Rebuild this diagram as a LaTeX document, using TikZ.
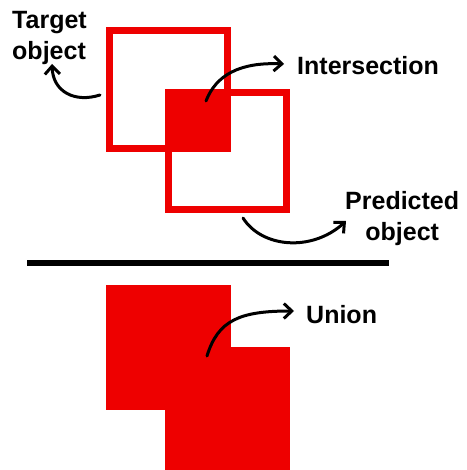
\documentclass[tikz,border=0pt]{standalone}
\usepackage{fontspec}
\setmainfont{Liberation Sans}
\usetikzlibrary{arrows.meta}
\definecolor{boxred}{RGB}{238,0,0}
\begin{document}
\begin{tikzpicture}[x=1pt,y=-1pt,
  lbl/.style={font=\bfseries\fontsize{25}{31}\selectfont, text=black, inner sep=0pt},
  curvy/.style={line width=3pt, black, line cap=round, -{Straight Barb[length=8pt,width=15pt,line width=3pt]}},
  outline/.style={draw=boxred, line width=7pt}]
\useasboundingbox (0,0) rectangle (466,470);
% top part
\fill[boxred] (165,89) rectangle (231,152);
\draw[outline] (109.5,30.5) rectangle (227.5,148.5);
\draw[outline] (168.5,92.5) rectangle (286.5,209.5);
% separator
\draw[line width=6pt, black] (27,263) coordinate (sepL) -- (389,263) coordinate (sepR);
% union
\fill[boxred] (106,285) rectangle (231,410);
\fill[boxred] (165,347) rectangle (290,472);
% labels
\node[lbl, anchor=base west, align=left] (target) at (12,60) {Target\\object};
\node[lbl, anchor=base west] (inter) at (297,75) {Intersection};
\node[lbl, anchor=base west, align=center] (pred) at (345,240) {Predicted\\object};
\node[lbl, anchor=base west] (union) at (306,323) {Union};
% arrow anchors
\coordinate (tS) at (100,95);
\coordinate (tE) at (52,64);
\coordinate (iS) at (206,101);
\coordinate (iE) at (284,64);
\coordinate (pS) at (243,218);
\coordinate (pE) at (346,221);
\coordinate (uS) at (207,356);
\coordinate (uE) at (294,311);
\draw[curvy] (tS) .. controls (75,103) and (53,92) .. (tE);
\draw[curvy] (iS) .. controls (216,75) and (240,62) .. (iE);
\draw[curvy] (pS) .. controls (262,248) and (312,252) .. (pE);
\draw[curvy] (uS) .. controls (218,320) and (240,311) .. (uE);
\end{tikzpicture}
\end{document}
